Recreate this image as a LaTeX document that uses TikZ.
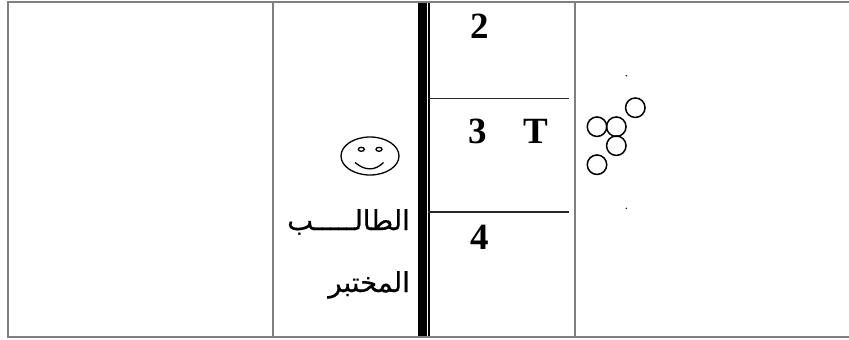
\documentclass[tikz,border=0pt]{standalone}
\usepackage{fontspec}
\setmainfont{Liberation Serif}
\newfontfamily\arabicfont[Script=Arabic,FakeBold=0.4]{DejaVu Sans}
\TeXXeTstate=1
\definecolor{rule}{HTML}{808080}
\begin{document}
\begin{tikzpicture}[x=1pt,y=-1pt,
 frameline/.style={draw=rule,line width=2pt},
 rowline/.style={draw=black!85,line width=1.5pt},
 ball/.style={draw,circle,line width=1.5pt,minimum size=19.5pt,inner sep=0pt},
 face/.style={line width=1.3pt},
 num/.style={font=\fontsize{37}{37}\selectfont\bfseries,inner sep=0pt},
 arab/.style={font=\fontsize{27.5}{27.5}\selectfont\arabicfont,inner sep=0pt,anchor=base east}]
 \useasboundingbox (0,0) rectangle (849,340);
 % table
 \draw[frameline] (849,2) -- (8,2) -- (8,337) -- (849,337);
 \draw[frameline] (273,2) -- (273,337);
 \draw[frameline] (575,2) -- (575,337);
 \fill (418,3) rectangle (427,336);
 \fill (428,3) rectangle (430,336);
 \draw[rowline] (428,98.5) -- (569,98.5);
 \draw[rowline] (428,212) -- (569,212);
 % numbers
 \node[num] (two) at (480,26) {2};
 \node[num] (three) at (478,131) {3};
 \node[num] (tee) at (536,131) {T};
 \node[num] (four) at (480,237) {4};
 % student
 \draw[face] (370,156) ellipse (29 and 19);
 \draw[face] (361.3,149.3) ellipse (3 and 2);
 \draw[face] (379,149.3) ellipse (3 and 2);
 \draw[face] (355,162.5) .. controls (365,171) and (375,171) .. (383.5,162.5);
 \node[arab] (student) at (410,230) {\beginR الطالـــــب\endR};
 \node[arab] (lab) at (410,292) {\beginR المختبر\endR};
 % balls
 \node[ball] (b1) at (635.3,107.7) {};
 \node[ball] (b2) at (597,126.7) {};
 \node[ball] (b3) at (616.3,126.7) {};
 \node[ball] (b4) at (616.3,145.7) {};
 \node[ball] (b5) at (597,164.7) {};
 \fill (626.3,75.7) circle (0.8);
 \fill (626.3,208.3) circle (0.8);
\end{tikzpicture}
\end{document}
